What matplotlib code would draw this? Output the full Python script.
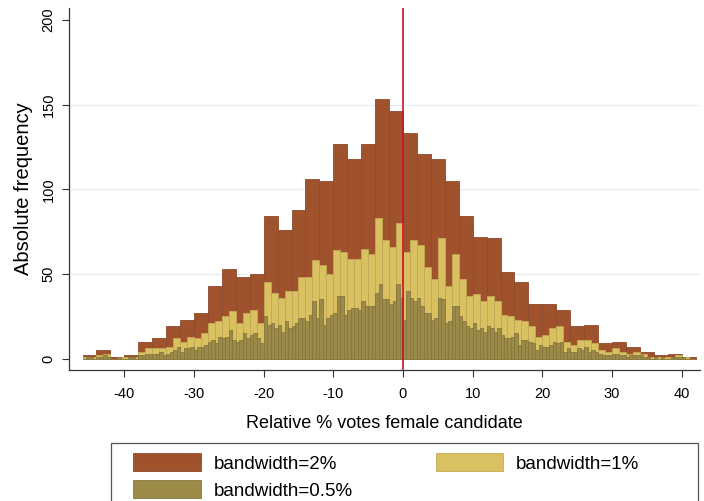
import numpy as np
import matplotlib
matplotlib.use("Agg")
import matplotlib.pyplot as plt
import matplotlib.patches as mpatches

plt.rcParams['font.family'] = ['Liberation Sans', 'DejaVu Sans']
plt.rcParams['axes.unicode_minus'] = False

# counts per bin, bins start at -46 (% votes)
start = -46
counts_2 = [2, 5, 1, 2, 10, 12, 19, 23, 27, 43, 53, 48, 50, 84, 76, 88, 106, 105,
            127, 118, 127, 153, 146, 133, 121, 118, 105, 84, 72, 71, 51, 45, 32, 32,
            29, 19, 20, 9, 10, 7, 4, 2, 3, 1]

counts_1 = [1, 1, 2, 3, 0, 1, 1, 1, 4, 6, 6, 6, 7, 12, 10, 13, 12, 15, 21, 22,
            25, 28, 21, 27, 29, 21, 45, 39, 36, 40, 40, 48, 48, 58, 55, 50, 64, 63,
            59, 59, 65, 62, 83, 70, 66, 80, 63, 70, 67, 54, 47, 71, 43, 62, 47, 37,
            38, 34, 37, 34, 26, 25, 23, 22, 19, 13, 14, 18, 19, 10, 8, 11, 11, 9,
            5, 4, 6, 4, 3, 4, 3, 1, 1, 1, 1, 2, 1, 0]

counts_05 = [0, 1, 1, 0, 1, 1, 2, 1, 0, 0, 1, 0, 0, 1, 1, 0,
             2, 2, 3, 3, 3, 3, 4, 2, 3, 4, 5, 7, 4, 6, 6, 7,
             5, 7, 7, 8, 10, 11, 9, 13, 12, 13, 17, 11, 10, 11, 15, 12,
             14, 15, 12, 9, 25, 20, 21, 18, 20, 16, 22, 18, 19, 21, 24, 24,
             22, 26, 34, 24, 35, 20, 24, 26, 27, 37, 37, 26, 29, 30, 30, 29,
             34, 31, 31, 31, 39, 44, 35, 35, 32, 34, 44, 36,
             23, 40, 36, 34, 36, 31, 27, 27, 23, 24, 36, 35, 21, 22, 31, 31,
             25, 22, 19, 18, 21, 17, 18, 16, 19, 18, 16, 18, 14, 12, 12, 13,
             15, 8, 11, 11, 10, 9, 5, 8, 7, 7, 8, 10, 9, 10, 4, 6,
             4, 4, 6, 5, 7, 4, 5, 4, 3, 2, 2, 2, 3, 3, 2, 2,
             1, 2, 2, 2, 2, 1, 1, 0, 1, 0, 1, 0, 0, 1, 1, 1, 1, 0, 0, 0]

labels = ['bandwidth=2%', 'bandwidth=1%', 'bandwidth=0.5%']
fills = ['#a0522d', '#d9c161', '#9b8a48']
edges = ['#8c4a2c', '#c2aa55', '#86773e']

fig = plt.figure(figsize=(7.04, 5.01), dpi=100)
ax = fig.add_axes([0.0984, 0.2615, 0.8956, 0.7225])

series = [(counts_2, 2.0), (counts_1, 1.0), (counts_05, 0.5)]
handles = []
for (vals, w), lab, fc, ec in zip(series, labels, fills, edges):
    left = start + w * np.arange(len(vals))
    ax.bar(left, vals, width=w, align='edge', color=fc, edgecolor=ec,
           linewidth=0.6, zorder=2)
    handles.append(mpatches.Patch(facecolor=fc, edgecolor=ec, linewidth=0.6, label=lab))

for yv in [50, 100, 150]:
    ax.axhline(yv, color='#e6eef2', lw=1.0, zorder=1)
ax.axvline(0, color='#c8102e', lw=1.2, zorder=3)

ax.set_xlim(-47.9, 42.6)
ax.set_ylim(-6.7, 207)
ax.set_xticks(np.arange(-40, 41, 10))
ax.set_yticks(np.arange(0, 201, 50))
ax.tick_params(axis='both', labelsize=10.5, length=5, width=0.8, color='#333333')
ax.tick_params(axis='x', pad=7)
ax.tick_params(axis='y', pad=5)
for t in ax.get_yticklabels():
    t.set_rotation(90)
    t.set_va('center')
for s in ['top', 'right']:
    ax.spines[s].set_visible(False)
for s in ['left', 'bottom']:
    ax.spines[s].set_color('#333333')
    ax.spines[s].set_linewidth(0.9)

ax.set_xlabel('Relative % votes female candidate', fontsize=13, labelpad=10)
ax.set_ylabel('Absolute frequency', fontsize=14.5, labelpad=6)

# legend below, row-wise order: 2%, 1% / 0.5%
leg = fig.legend([handles[0], handles[2], handles[1]],
                 [labels[0], labels[2], labels[1]],
                 ncol=2, loc='upper left', bbox_to_anchor=(124 / 704, 1 - 444 / 501),
                 frameon=False, fontsize=13.5, borderpad=0, handlelength=3.6,
                 handleheight=1.07, handletextpad=0.7, labelspacing=0.42,
                 columnspacing=4.4)
fig.add_artist(mpatches.Rectangle((111 / 704, -0.02), 587 / 704, 1 - 443 / 501 + 0.02,
                                  transform=fig.transFigure, fill=False,
                                  edgecolor='#555555', lw=0.9))

fig.savefig('out.png', dpi=100)
